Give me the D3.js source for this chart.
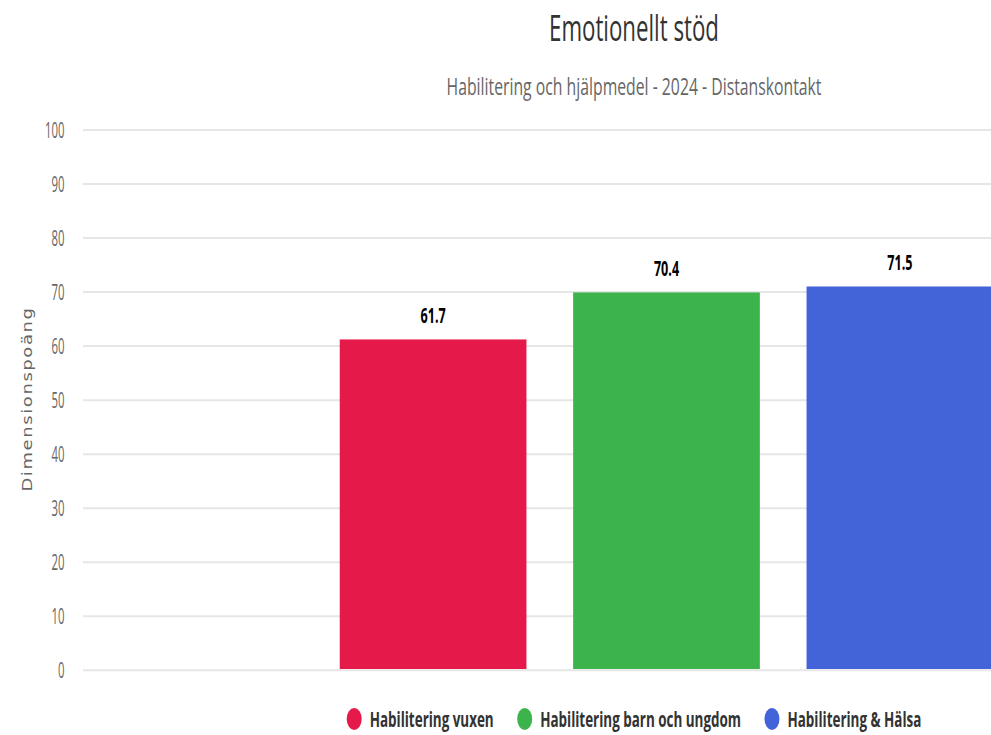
<!DOCTYPE html>
<html><head><meta charset="utf-8">
<script src="https://cdn.jsdelivr.net/npm/d3@7"></script>
<style>
html,body{margin:0;padding:0;background:#fff;overflow:hidden;}
text{font-family:"Open Sans","Noto Sans",sans-serif;}
</style></head>
<body><svg id="c" width="991" height="735"></svg>
<script>
const categories = ["Emotionellt stöd"];
const seriesNames = ["Habilitering vuxen", "Habilitering barn och ungdom", "Habilitering & Hälsa"];
const seriesValues = [61.7, 70.4, 71.5];
const seriesColors = ["#e6194b", "#3cb44b", "#4363d8"];
const yTicks = [0,10,20,30,40,50,60,70,80,90,100];
const titleText = "Emotionellt stöd";
const subtitleText = "Habilitering och hjälpmedel - 2024 - Distanskontakt";
const yAxisTitle = "Dimensionspoäng";

const SX = 0.57; // horizontal squash of the original rendering (text)
const svg = d3.select("#c");
const plotL = 83, plotR = 1250, plotT = 130, plotB = 670.3, centerX = 634;

const y = d3.scaleLinear().domain([0,100]).range([plotB, plotT]);
const x0 = d3.scaleBand().domain(categories).range([plotL, plotR]).padding(0);
const groupPad = 0.2;
const x1 = d3.scaleBand().domain(seriesNames)
  .range([x0.bandwidth()*groupPad, x0.bandwidth()*(1-groupPad)]).paddingInner(0.2).paddingOuter(0.1);

function sqText(g, x, yy, str, anchor, sx) {
  return g.append("text").attr("transform", `translate(${x},${yy}) scale(${sx||SX},1)`)
    .attr("text-anchor", anchor || "middle").text(str);
}
function fitText(t, x, yy, targetW) {
  const w = t.node().getComputedTextLength();
  t.attr("transform", `translate(${x},${yy}) scale(${targetW / w},1)`);
}

// gridlines
svg.append("g").selectAll("line").data(yTicks).join("line")
  .attr("x1", plotL).attr("x2", plotR)
  .attr("y1", d => y(d)).attr("y2", d => y(d))
  .attr("stroke", "#e6e6e6").attr("stroke-width", 2);

// y tick labels
const yl = svg.append("g").attr("fill", "#666").attr("font-size", 21);
yTicks.forEach(t => sqText(yl, 64.5, y(t) + 7.5, String(t), "end", 0.54));

// y axis title
svg.append("text").attr("transform", `translate(32,399) rotate(-90) scale(1,0.8)`)
  .attr("text-anchor", "middle").attr("fill", "#666").attr("font-size", 18)
  .style("font-family", "'DejaVu Sans',Verdana,sans-serif")
  .attr("letter-spacing", 1.6).text(yAxisTitle);

// bars (Highcharts-style: 1px white border, crisp edges)
const bars = svg.append("g");
categories.forEach(cat => {
  seriesNames.forEach((s, i) => {
    const bx = x0(cat) + x1(s);
    const top = y(seriesValues[i]) + 2.5, bot = y(0) - 1.3;
    bars.append("rect").attr("x", bx).attr("y", top)
      .attr("width", x1.bandwidth()).attr("height", bot - top)
      .attr("fill", seriesColors[i]);
    const t = sqText(bars, bx + x1.bandwidth()/2, top - 16, seriesValues[i].toFixed(1), "middle", 0.6);
    t.attr("font-size", 21).attr("font-weight", "bold").attr("fill", "#000")
     .attr("stroke", "#fff").attr("stroke-width", 2).attr("paint-order", "stroke");
  });
});

// titles
const tt = svg.append("text").attr("text-anchor", "middle").attr("font-size", 37).attr("fill", "#333").text(titleText);
fitText(tt, centerX, 41, 170);
const st = svg.append("text").attr("text-anchor", "middle").attr("font-size", 23).attr("fill", "#666").text(subtitleText);
fitText(st, centerX, 95, 375);

// legend
const LSX = 0.64;
const lg = svg.append("g").attr("font-size", 21).attr("font-weight", "bold").attr("fill", "#333");
const items = [];
seriesNames.forEach((s, i) => {
  const g = lg.append("g");
  g.append("ellipse").attr("cx", 0).attr("cy", 0).attr("rx", 7.5).attr("ry", 11).attr("fill", seriesColors[i]);
  const t = sqText(g, 15.5, 7.5, s, "start", LSX);
  const w = 15.5 + t.node().getComputedTextLength()*LSX;
  items.push({g, w});
});
const gap = 31;
const total = d3.sum(items, d => d.w) + gap*(items.length-1) + 7.5;
let cx = centerX - total/2 + 7.5;
items.forEach(it => { it.g.attr("transform", `translate(${cx},719)`); cx += it.w + gap; });
</script></body></html>
